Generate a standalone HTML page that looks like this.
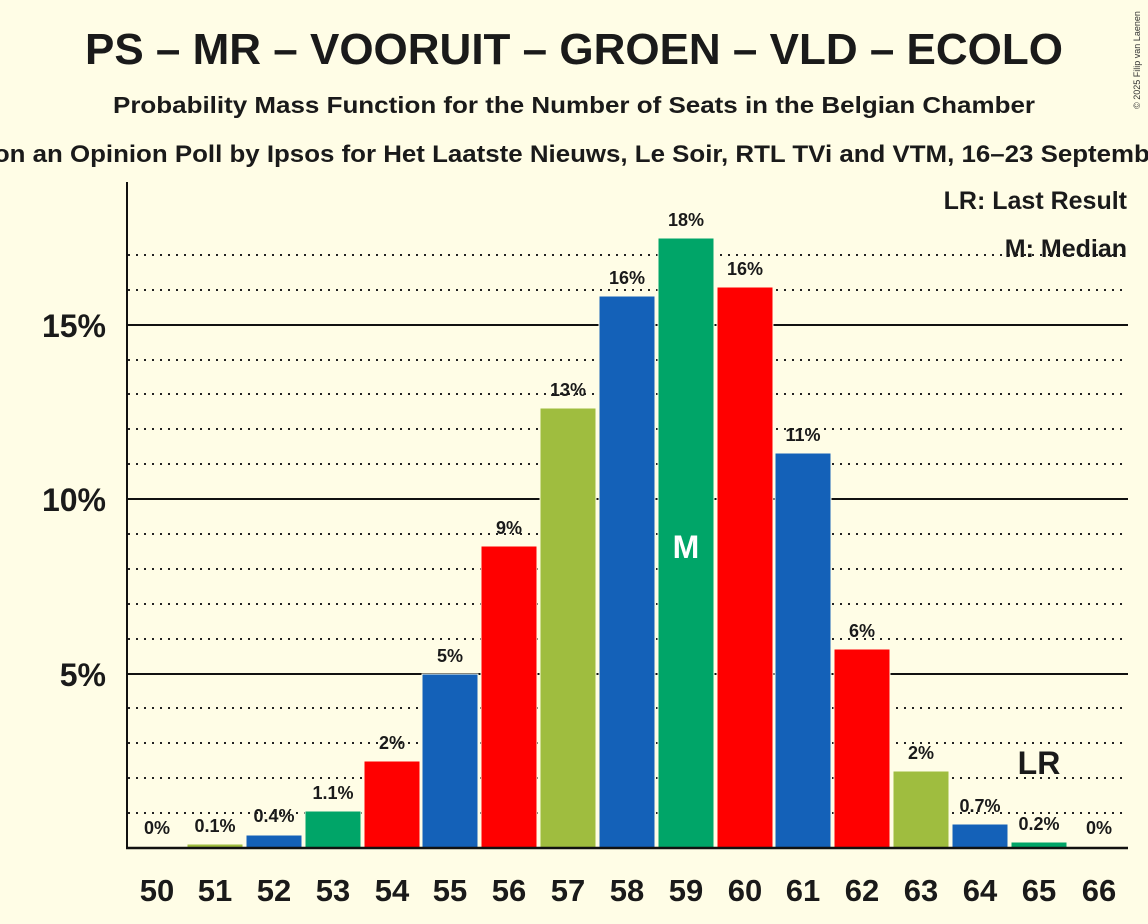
<!DOCTYPE html>
<html><head><meta charset="utf-8"><style>
body{margin:0;background:#fffde6;overflow:hidden;}
svg{display:block;font-family:"Liberation Sans",sans-serif;}
</style></head><body>
<svg width="1148" height="924" viewBox="0 0 1148 924" xmlns="http://www.w3.org/2000/svg">
<rect width="1148" height="924" fill="#fffde6"/>
<text x="574" y="64" text-anchor="middle" font-size="44" font-weight="bold" fill="#1a1a1a">PS – MR – VOORUIT – GROEN – VLD – ECOLO</text>
<text x="574" y="113" text-anchor="middle" font-size="23" font-weight="bold" fill="#1a1a1a" textLength="922" lengthAdjust="spacingAndGlyphs">Probability Mass Function for the Number of Seats in the Belgian Chamber</text>
<text x="574" y="162" text-anchor="middle" font-size="24" font-weight="bold" fill="#1a1a1a" textLength="1330" lengthAdjust="spacingAndGlyphs">Based on an Opinion Poll by Ipsos for Het Laatste Nieuws, Le Soir, RTL TVi and VTM, 16–23 September 2024</text>
<text x="1140" y="60" font-size="9" fill="#333" transform="rotate(-90 1140 60)" text-anchor="middle">© 2025 Filip van Laenen</text>
<g stroke="#222" stroke-width="2" stroke-dasharray="2,6">
<line x1="128" x2="1128" y1="813" y2="813"/><line x1="128" x2="1128" y1="778" y2="778"/><line x1="128" x2="1128" y1="743" y2="743"/><line x1="128" x2="1128" y1="708" y2="708"/>
<line x1="128" x2="1128" y1="639" y2="639"/><line x1="128" x2="1128" y1="604" y2="604"/><line x1="128" x2="1128" y1="569" y2="569"/><line x1="128" x2="1128" y1="534" y2="534"/>
<line x1="128" x2="1128" y1="464" y2="464"/><line x1="128" x2="1128" y1="429" y2="429"/><line x1="128" x2="1128" y1="394" y2="394"/><line x1="128" x2="1128" y1="360" y2="360"/>
<line x1="128" x2="1128" y1="290" y2="290"/><line x1="128" x2="1128" y1="255" y2="255"/>
</g>
<g stroke="#111" stroke-width="2">
<line x1="128" x2="1128" y1="674" y2="674"/><line x1="128" x2="1128" y1="499" y2="499"/><line x1="128" x2="1128" y1="325" y2="325"/>
</g>
<g stroke="#fffde6" stroke-width="1">
<rect x="187" y="844" width="56" height="4" fill="#9fbd3f"/>
<rect x="246" y="835" width="56" height="13" fill="#1461b8"/>
<rect x="305" y="811" width="56" height="37" fill="#00a568"/>
<rect x="364" y="761" width="56" height="87" fill="#ff0000"/>
<rect x="422" y="674" width="56" height="174" fill="#1461b8"/>
<rect x="481" y="546" width="56" height="302" fill="#ff0000"/>
<rect x="540" y="408" width="56" height="440" fill="#9fbd3f"/>
<rect x="599" y="296" width="56" height="552" fill="#1461b8"/>
<rect x="658" y="238" width="56" height="610" fill="#00a568"/>
<rect x="717" y="287" width="56" height="561" fill="#ff0000"/>
<rect x="775" y="453" width="56" height="395" fill="#1461b8"/>
<rect x="834" y="649" width="56" height="199" fill="#ff0000"/>
<rect x="893" y="771" width="56" height="77" fill="#9fbd3f"/>
<rect x="952" y="824" width="56" height="24" fill="#1461b8"/>
<rect x="1011" y="842" width="56" height="6" fill="#00a568"/>
</g>
<line x1="127" y1="182" x2="127" y2="849" stroke="#111" stroke-width="2"/>
<line x1="126" y1="848" x2="1128" y2="848" stroke="#111" stroke-width="2.5"/>
<g font-size="32" font-weight="bold" fill="#1a1a1a" text-anchor="end">
<text x="106" y="686">5%</text><text x="106" y="511">10%</text><text x="106" y="337">15%</text>
</g>
<g font-size="18" font-weight="bold" fill="#1a1a1a" text-anchor="middle">
<text x="157" y="834">0%</text><text x="215" y="832">0.1%</text><text x="274" y="822">0.4%</text><text x="333" y="799">1.1%</text>
<text x="392" y="749">2%</text><text x="450" y="662">5%</text><text x="509" y="534">9%</text><text x="568" y="396">13%</text>
<text x="627" y="284">16%</text><text x="686" y="226">18%</text><text x="745" y="275">16%</text><text x="803" y="441">11%</text>
<text x="862" y="637">6%</text><text x="921" y="759">2%</text><text x="980" y="812">0.7%</text><text x="1039" y="830">0.2%</text><text x="1099" y="834">0%</text>
</g>
<text x="686" y="558" font-size="32" font-weight="bold" fill="#fff" text-anchor="middle">M</text>
<text x="1039" y="774" font-size="32" font-weight="bold" fill="#1a1a1a" text-anchor="middle">LR</text>
<g font-size="25" font-weight="bold" fill="#1a1a1a" text-anchor="end">
<text x="1127" y="209">LR: Last Result</text><text x="1127" y="257">M: Median</text>
</g>
<g font-size="31" font-weight="bold" fill="#1a1a1a" text-anchor="middle">
<text x="157" y="901">50</text><text x="215" y="901">51</text><text x="274" y="901">52</text><text x="333" y="901">53</text><text x="392" y="901">54</text><text x="450" y="901">55</text><text x="509" y="901">56</text><text x="568" y="901">57</text><text x="627" y="901">58</text><text x="686" y="901">59</text><text x="745" y="901">60</text><text x="803" y="901">61</text><text x="862" y="901">62</text><text x="921" y="901">63</text><text x="980" y="901">64</text><text x="1039" y="901">65</text><text x="1099" y="901">66</text>
</g>
</svg>
</body></html>
